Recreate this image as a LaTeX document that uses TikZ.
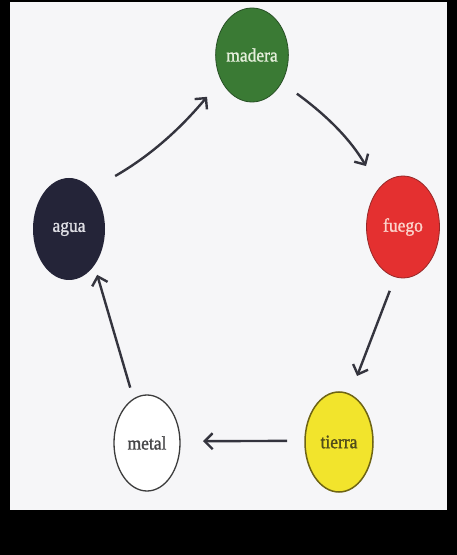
\documentclass[tikz,border=0pt]{standalone}
\usepackage{fontspec}
\setmainfont{Liberation Serif}
\newfontfamily\elemfont[FakeStretch=0.92,FakeBold=1.3]{Liberation Serif}
\usetikzlibrary{shapes.geometric,arrows.meta}
\definecolor{bgpage}{RGB}{246,246,248}
\definecolor{cmadera}{RGB}{58,122,52}
\definecolor{cmaderaline}{RGB}{40,80,38}
\definecolor{cagua}{RGB}{36,36,56}
\definecolor{cfuego}{RGB}{228,48,48}
\definecolor{cfuegoline}{RGB}{150,40,40}
\definecolor{ctierra}{RGB}{242,228,44}
\definecolor{ctierraline}{RGB}{110,100,20}
\definecolor{cmetalline}{RGB}{60,60,60}
\definecolor{carrow}{RGB}{52,52,62}
\tikzset{
  elem/.style={ellipse, inner sep=0pt, outer sep=0pt, font=\elemfont\fontsize{19}{22}\selectfont},
  arr/.style={draw=carrow, line width=2.4pt, -{Straight Barb[length=8pt,width=16pt,line width=2.4pt]}}
}
\begin{document}
\begin{tikzpicture}[x=1pt,y=1pt]
\fill[black] (0,0) rectangle (457,555);
\fill[bgpage] (10,45) rectangle (447,553);
\node[elem, fill=cmadera, draw=cmaderaline, line width=0.8pt, minimum width=70pt, minimum height=94pt, text={rgb,255:red,228;green,238;blue,218}] (madera) at (252,500) {madera};
\node[elem, fill=cagua, minimum width=72pt, minimum height=102pt, text={rgb,255:red,222;green,222;blue,228}] (agua) at (69,326) {agua};
\node[elem, fill=cfuego, draw=cfuegoline, line width=0.8pt, minimum width=73pt, minimum height=102pt, text={rgb,255:red,252;green,212;blue,204}] (fuego) at (403,328) {fuego};
\node[elem, fill=ctierra, draw=ctierraline, line width=1.5pt, minimum width=68pt, minimum height=100pt, text={rgb,255:red,80;green,76;blue,26}] (tierra) at (339,113) {tierra};
\node[elem, fill=white, draw=cmetalline, line width=1.3pt, minimum width=66pt, minimum height=96pt, text={rgb,255:red,70;green,70;blue,72}] (metal) at (147,112) {metal};
\draw[arr, shorten <=27pt, shorten >=22pt] (agua.60) to[out=30,in=230] (madera.219);
\draw[arr, shorten <=19pt, shorten >=26pt] (madera.-43) to[out=-36,in=120] (fuego.122);
\draw[arr, shorten <=15pt, shorten >=20pt] (fuego.261) -- (tierra.77);
\draw[arr, shorten <=18pt, shorten >=23pt] (tierra.178) -- (metal.3);
\draw[arr, shorten <=12pt, shorten >=10pt] (metal.107) -- (agua.-55);
\end{tikzpicture}
\end{document}
